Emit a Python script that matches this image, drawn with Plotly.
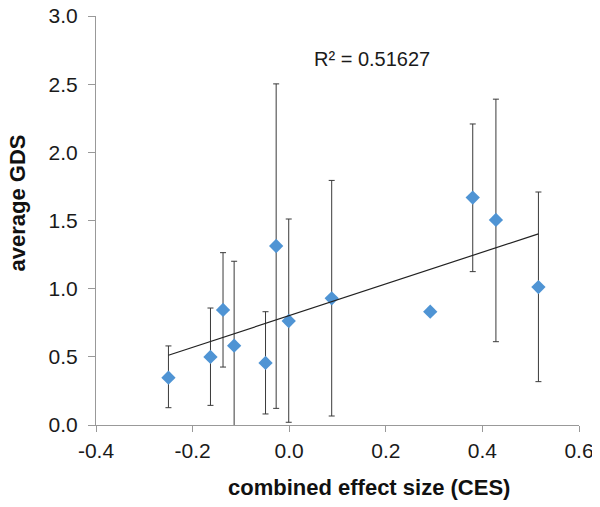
import numpy as np
import plotly.graph_objects as go

ces = [-0.250, -0.163, -0.137, -0.114, -0.049, -0.027, -0.001, 0.088, 0.292, 0.380, 0.428, 0.516]
gds = [0.347, 0.499, 0.844, 0.582, 0.455, 1.313, 0.763, 0.929, 0.831, 1.668, 1.504, 1.012]
err_hi = [0.58, 0.858, 1.264, 1.201, 0.831, 2.502, 1.511, 1.794, 0.831, 2.208, 2.39, 1.709]
err_lo = [0.127, 0.144, 0.425, -0.05, 0.081, 0.122, 0.02, 0.066, 0.831, 1.125, 0.611, 0.318]
x_ticks = [-0.4, -0.2, 0.0, 0.2, 0.4, 0.6]
x_tick_text = ["-0.4", "-0.2", "0.0", "0.2", "0.4", "0.6"]
y_ticks = [0.0, 0.5, 1.0, 1.5, 2.0, 2.5, 3.0]
y_tick_text = ["0.0", "0.5", "1.0", "1.5", "2.0", "2.5", "3.0"]
r2_label = "R² = 0.51627"
x_title = "combined effect size (CES)"
y_title = "average GDS"

plus = [h - g for h, g in zip(err_hi, gds)]
minus = [g - l for g, l in zip(gds, err_lo)]

slope, intercept = np.polyfit(ces, gds, 1)
xfit = [min(ces), max(ces)]
yfit = [slope * x + intercept for x in xfit]

FONT = "Liberation Sans, Arial, sans-serif"

fig = go.Figure()
fig.add_trace(go.Scatter(
    x=ces, y=gds, mode="markers",
    marker=dict(symbol="diamond", size=11, color="#4F94D4"),
    error_y=dict(type="data", symmetric=False, array=plus, arrayminus=minus,
                 color="#3a3a3a", thickness=1, width=3),
    showlegend=False,
))
fig.add_trace(go.Scatter(
    x=xfit, y=yfit, mode="lines", line=dict(color="#222222", width=1.2),
    showlegend=False,
))
fig.add_annotation(x=0.171, y=2.687, text=r2_label, showarrow=False,
                   xanchor="center", yanchor="middle",
                   font=dict(size=20, color="#1a1a1a", family=FONT))
fig.add_annotation(xref="paper", yref="paper", x=0.566, y=-0.153,
                   xanchor="center", yanchor="middle",
                   text="<b>" + x_title + "</b>", showarrow=False,
                   font=dict(size=22, color="#111111", family=FONT))
fig.add_annotation(xref="paper", yref="paper", x=-0.1625, y=0.543,
                   xanchor="center", yanchor="middle",
                   text="<b>" + y_title + "</b>", showarrow=False, textangle=-90,
                   font=dict(size=22, color="#111111", family=FONT))

fig.update_layout(
    width=592, height=499,
    margin=dict(l=88, r=21, t=8, b=82),
    paper_bgcolor="white", plot_bgcolor="white",
    font=dict(family=FONT, color="#1a1a1a"),
    xaxis=dict(range=[-0.4, 0.6], tickvals=x_ticks, ticktext=x_tick_text,
               automargin=False, ticklabeloverflow="allow",
               showgrid=False, zeroline=False, showline=True, linecolor="#999999",
               ticks="outside", ticklen=6, tickcolor="#999999",
               ticklabelstandoff=1,
               tickfont=dict(size=21)),
    yaxis=dict(range=[0, 3.0], tickvals=y_ticks, ticktext=y_tick_text,
               automargin=False, ticklabeloverflow="allow",
               showgrid=False, zeroline=False, showline=True, linecolor="#999999",
               ticks="outside", ticklen=7, tickcolor="#999999",
               ticklabelstandoff=6,
               tickfont=dict(size=21)),
)
fig.write_html("out.html")
